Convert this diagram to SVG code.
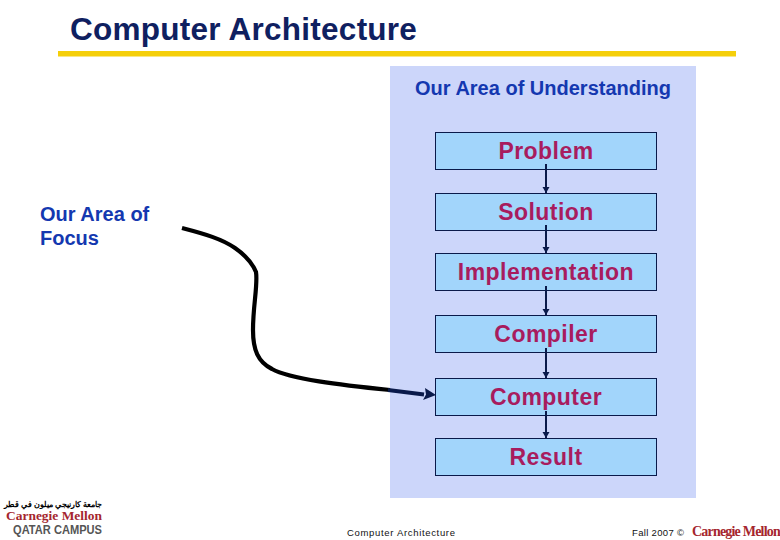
<svg xmlns="http://www.w3.org/2000/svg" width="780" height="540" viewBox="0 0 780 540">
<style>
text{font-family:"Liberation Sans",Arial,sans-serif}
.box{fill:#a2d5fb;stroke:#0a1a4a;stroke-width:1}
.lbl{font-size:23px;font-weight:bold;fill:#a81c5e;text-anchor:middle;letter-spacing:.45px}
.arr{stroke:#0a1a4a;stroke-width:2;fill:none;marker-end:url(#ah)}
.head{font-size:20px;font-weight:bold;fill:#1438b0}
.foot{font-size:9.5px;fill:#111}
.cmu{font-family:"Liberation Serif",serif;font-weight:bold;fill:#a5262e}
</style>
<defs>
<marker id="ah" markerUnits="userSpaceOnUse" markerWidth="8" markerHeight="8" refX="6" refY="3.500" orient="auto"><path d="M0 0L6 3.500L0 7z" fill="#0a1a4a"/></marker>
</defs>
<rect width="780" height="540" fill="#fff"/>
<g id="title">
<text x="70" y="40" font-size="31.500" font-weight="bold" fill="#0f2060" letter-spacing=".25">Computer Architecture</text>
<rect x="58" y="51" width="678" height="5.500" fill="#f5cf0a"/>
</g>
<g id="panel">
<rect x="390" y="66" width="306" height="432" fill="#ccd6fa"/>
<text x="543" y="95" class="head" text-anchor="middle">Our Area of Understanding</text>
</g>
<g id="focus"><text class="head"><tspan x="40" y="221">Our Area of</tspan><tspan x="40" y="245">Focus</tspan></text></g>
<g id="n1"><rect class="box" x="435.500" y="132.500" width="221" height="37"/><text class="lbl" x="546" y="159">Problem</text></g>
<g id="n2"><rect class="box" x="435.500" y="193.500" width="221" height="37"/><text class="lbl" x="546" y="220">Solution</text></g>
<g id="n3"><rect class="box" x="435.500" y="253.500" width="221" height="37"/><text class="lbl" x="546" y="280">Implementation</text></g>
<g id="n4"><rect class="box" x="435.500" y="315.500" width="221" height="37"/><text class="lbl" x="546" y="342">Compiler</text></g>
<g id="n5"><rect class="box" x="435.500" y="378.500" width="221" height="37"/><text class="lbl" x="546" y="405">Computer</text></g>
<g id="n6"><rect class="box" x="435.500" y="438.500" width="221" height="37"/><text class="lbl" x="546" y="465">Result</text></g>
<g id="connectors">
<path class="arr" d="M546 164V193"/>
<path class="arr" d="M546 225V253"/>
<path class="arr" d="M546 286V315"/>
<path class="arr" d="M546 348V378"/>
<path class="arr" d="M546 411V438"/>
<path d="M182 228C205 234 222 239 235 248C245 255 252 262 256 272C258 285 253 305 253 330C253 350 258 362 272 369C290 379 340 385 390 390" fill="none" stroke="#000" stroke-width="4.200"/>
<path d="M388 390L424 394.500" fill="none" stroke="#0a1a4a" stroke-width="4.200"/>
<path d="M425 388L436 395L423 400L426 394.500z" fill="#0a1a4a"/>
</g>
<g id="footer">
<text class="foot" x="347" y="536" textLength="108">Computer Architecture</text>
<text class="foot" x="632" y="536" textLength="52">Fall 2007 ©</text>
<text class="cmu" x="692" y="536" font-size="14" letter-spacing="-.8">Carnegie Mellon</text>
</g>
<g id="logo">
<text x="4" y="507" font-size="8" font-weight="bold" fill="#000" textLength="98" font-family="'Noto Sans','DejaVu Sans',sans-serif">جامعة كارنيجي ميلون في قطر</text>
<text class="cmu" x="6" y="520" font-size="13" textLength="96" lengthAdjust="spacingAndGlyphs">Carnegie Mellon</text>
<text x="13" y="534" font-size="13" font-weight="bold" fill="#555" textLength="89" lengthAdjust="spacingAndGlyphs">QATAR CAMPUS</text>
</g>
</svg>
